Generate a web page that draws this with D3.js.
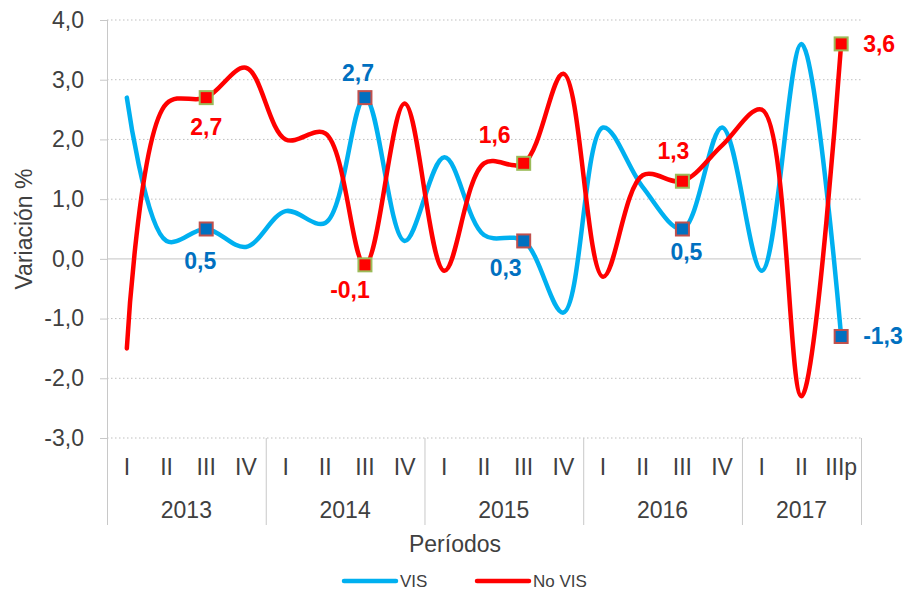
<!DOCTYPE html>
<html lang="es">
  <head>
    <meta charset="UTF-8" />
    <title>Variación % VIS y No VIS</title>
    <script src="https://cdn.jsdelivr.net/npm/d3@7"></script>
    <style>
      body { margin: 0; background: #fff; }
      svg { font-family: Arial, "Liberation Sans", sans-serif; }
      .grid line { stroke: #bfbfbf; stroke-dasharray: 1.5 2.5; }
      .tick-label { font-size: 23px; fill: #404040; }
      .cat { font-size: 23px; fill: #404040; }
      .lbl { font-size: 23px; font-weight: bold; }
    </style>
  </head>
  <body>
    <svg width="906" height="591"></svg>
    <script>
      // trimestres y años
      const quarters = ['I', 'II', 'III', 'IV', 'I', 'II', 'III', 'IV', 'I', 'II', 'III', 'IV', 'I', 'II', 'III', 'IV', 'I', 'II', 'IIIp'];
      const years = ['2013', '2014', '2015', '2016', '2017'];
      const yearCounts = [4, 4, 4, 4, 3];
      const yTicks = [4, 3, 2, 1, 0, -1, -2, -3];

      // variación %
      const vis = [2.7, 0.3, 0.5, 0.2, 0.8, 0.6, 2.7, 0.3, 1.7, 0.4, 0.3, -0.9, 2.2, 1.2, 0.5, 2.2, -0.2, 3.6, -1.3];
      const noVis = [-1.5, 2.6, 2.7, 3.2, 2.0, 2.1, -0.1, 2.6, -0.2, 1.6, 1.6, 3.1, -0.3, 1.4, 1.3, 1.9, 2.5, -2.3, 3.6];

      // puntos marcados: índice, desplazamiento de la etiqueta
      const visMarks = [[2, -6, 40], [6, -7, -17], [10, -18, 35], [14, 4, 31], [18, 22, 8, 'start']];
      const noVisMarks = [[2, 0, 37], [6, -15, 33], [10, -29, -20], [14, -9, -22], [18, 22, 8, 'start']];

      const svg = d3.select('svg');
      const x0 = 107, x1 = 861, y0 = 20, y1 = 438;

      const x = d3.scaleBand().domain(d3.range(quarters.length)).range([x0, x1]);
      const y = d3.scaleLinear().domain([-3, 4]).range([y1, y0]);
      const cx = (i) => x(i) + x.bandwidth() / 2;
      const fmt = (v) => d3.format('.1f')(v).replace('.', ',').replace('\u2212', '-');

      // grid
      svg.append('g').attr('class', 'grid')
        .selectAll('line')
        .data(yTicks.filter((d) => d !== 0))
        .enter()
        .append('line')
        .attr('x1', x0).attr('x2', x1)
        .attr('y1', (d) => y(d)).attr('y2', (d) => y(d));

      svg.append('line')
        .attr('x1', x0).attr('x2', x1)
        .attr('y1', y(0)).attr('y2', y(0))
        .attr('stroke', '#d0d0d0').attr('stroke-width', 1.2);

      // eje y
      const yAxis = svg.append('g')
        .attr('transform', 'translate(' + x0 + ',0)')
        .call(d3.axisLeft(y).tickValues(yTicks).tickSize(7).tickPadding(16).tickFormat(fmt));
      yAxis.select('.domain').attr('stroke', '#c8c8c8').attr('d', 'M0.5,' + y0 + 'V' + 525);
      yAxis.selectAll('.tick line').attr('stroke', '#c8c8c8');
      yAxis.selectAll('.tick text').attr('class', 'tick-label').attr('fill', '#404040');

      svg.append('text')
        .attr('class', 'tick-label')
        .attr('transform', 'translate(32,229) rotate(-90)')
        .attr('text-anchor', 'middle')
        .text('Variación %');

      // eje x jerárquico
      const bounds = [0];
      yearCounts.forEach((c) => bounds.push(bounds[bounds.length - 1] + c));
      const bx = (b) => (b < quarters.length ? x(b) : x1);
      svg.append('g')
        .selectAll('line')
        .data(bounds)
        .enter()
        .append('line')
        .attr('x1', (d) => bx(d) + 0.5)
        .attr('x2', (d) => bx(d) + 0.5)
        .attr('y1', y1)
        .attr('y2', 525)
        .attr('stroke', '#c8c8c8');

      svg.append('g')
        .selectAll('text')
        .data(quarters)
        .enter()
        .append('text')
        .attr('class', 'cat')
        .attr('x', (d, i) => cx(i))
        .attr('y', 475)
        .attr('text-anchor', 'middle')
        .text((d) => d);

      svg.append('g')
        .selectAll('text')
        .data(years)
        .enter()
        .append('text')
        .attr('class', 'cat')
        .attr('x', (d, i) => (bx(bounds[i]) + bx(bounds[i + 1])) / 2)
        .attr('y', 518)
        .attr('text-anchor', 'middle')
        .text((d) => d);

      svg.append('text')
        .attr('class', 'cat')
        .attr('x', 455)
        .attr('y', 552)
        .attr('text-anchor', 'middle')
        .text('Períodos');

      // líneas suavizadas
      const line = d3.line()
        .x((d, i) => cx(i))
        .y((d) => y(d))
        .curve(d3.curveCatmullRom.alpha(0.5));

      svg.append('path').datum(vis)
        .attr('d', line).attr('fill', 'none')
        .attr('stroke', '#00b0f0').attr('stroke-width', 4.5)
        .attr('stroke-linecap', 'round');

      svg.append('path').datum(noVis)
        .attr('d', line).attr('fill', 'none')
        .attr('stroke', '#ff0000').attr('stroke-width', 4.5)
        .attr('stroke-linecap', 'round');

      // marcadores y etiquetas
      function marks(values, list, fill, border, color) {
        const g = svg.append('g');
        g.selectAll('rect')
          .data(list)
          .enter()
          .append('rect')
          .attr('x', (d) => cx(d[0]) - 6.5)
          .attr('y', (d) => y(values[d[0]]) - 6.5)
          .attr('width', 13)
          .attr('height', 13)
          .attr('fill', fill)
          .attr('stroke', border)
          .attr('stroke-width', 2);
        g.selectAll('text')
          .data(list)
          .enter()
          .append('text')
          .attr('class', 'lbl')
          .attr('fill', color)
          .attr('x', (d) => cx(d[0]) + d[1])
          .attr('y', (d) => y(values[d[0]]) + d[2])
          .attr('text-anchor', (d) => d[3] || 'middle')
          .text((d) => fmt(values[d[0]]));
      }

      marks(vis, visMarks, '#0070c0', '#c0504d', '#0070c0');
      marks(noVis, noVisMarks, '#ff0000', '#9bbb59', '#ff0000');

      // leyenda
      const legend = [['VIS', '#00b0f0', 344], ['No VIS', '#ff0000', 477]];
      const lg = svg.append('g').selectAll('g').data(legend).enter().append('g');
      lg.append('line')
        .attr('x1', (d) => d[2]).attr('x2', (d) => d[2] + 52)
        .attr('y1', 581).attr('y2', 581)
        .attr('stroke', (d) => d[1]).attr('stroke-width', 4.5)
        .attr('stroke-linecap', 'round');
      lg.append('text')
        .attr('x', (d) => d[2] + 56)
        .attr('y', 587)
        .attr('font-size', 17)
        .attr('fill', '#404040')
        .text((d) => d[0]);
    </script>
  </body>
</html>
